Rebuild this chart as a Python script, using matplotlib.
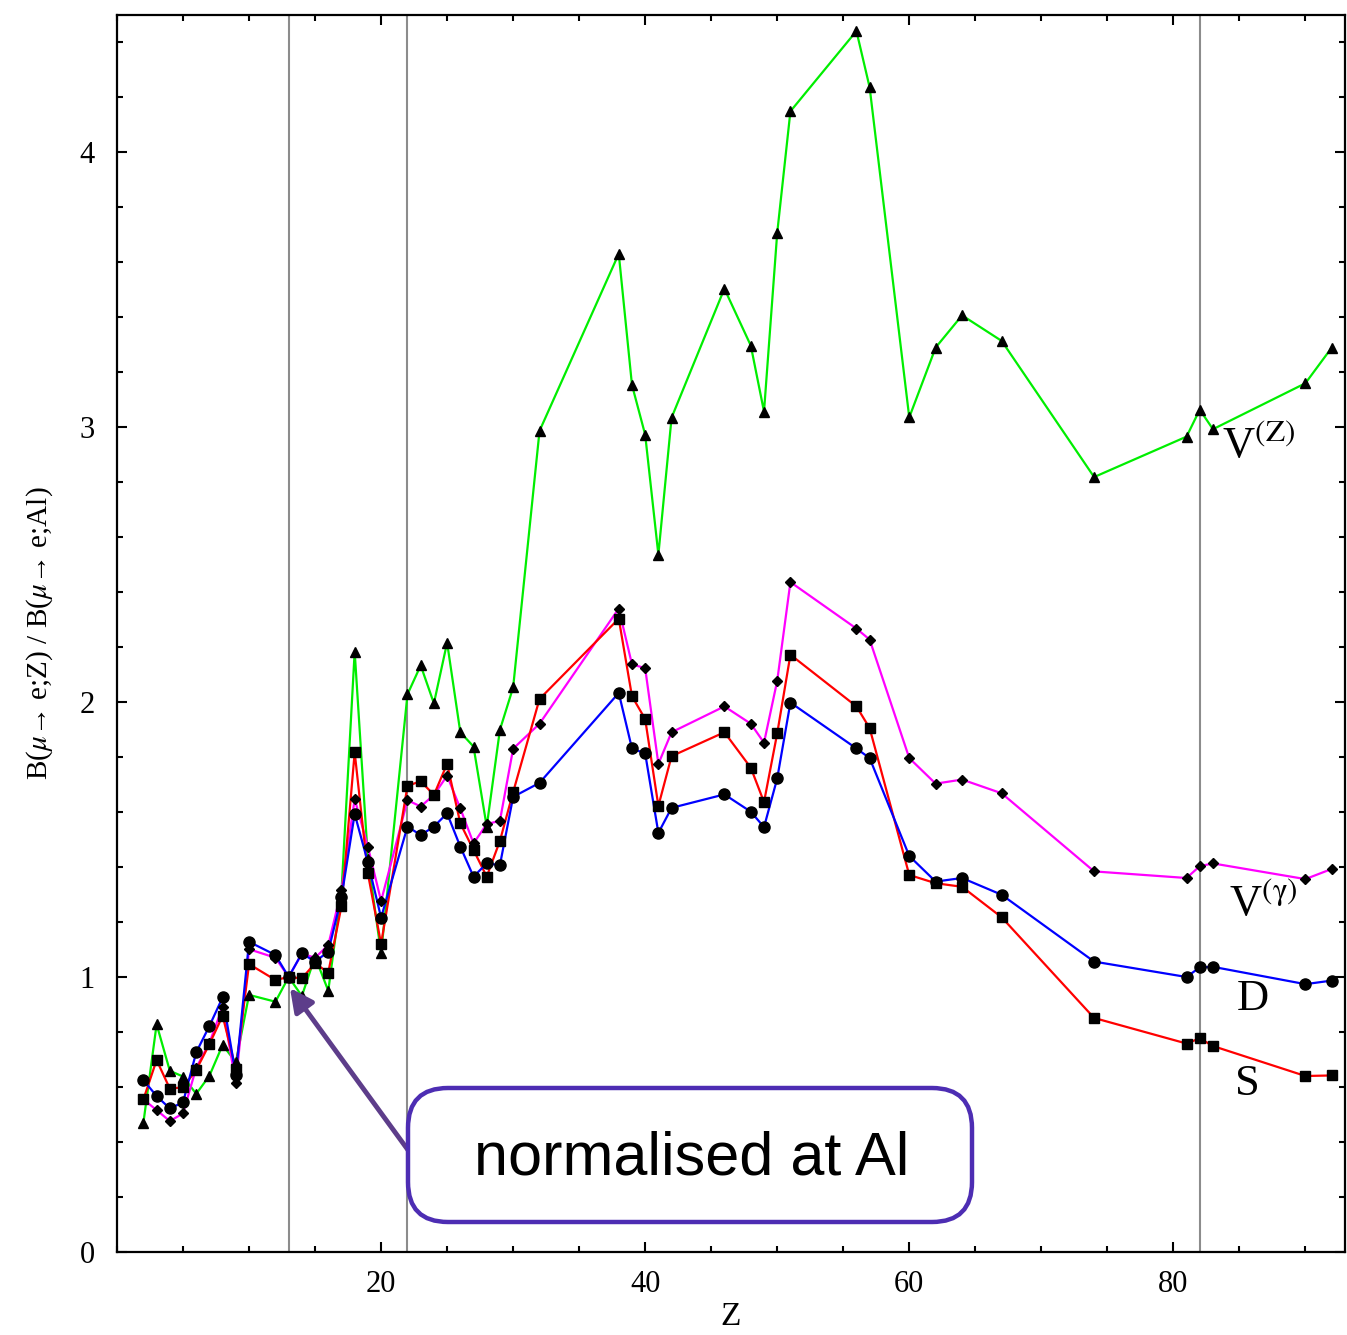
import matplotlib
matplotlib.use("Agg")
import matplotlib.pyplot as plt
from matplotlib.patches import FancyBboxPatch
from matplotlib.ticker import MultipleLocator

plt.rcParams["font.family"] = ["Liberation Serif", "DejaVu Serif"]
plt.rcParams["mathtext.fontset"] = "stix"

# ── data: ratio B(mu->e;Z)/B(mu->e;Al) per nucleus ──
Z = [2, 3, 4, 5, 6, 7, 8, 9, 10, 12, 13, 14, 15, 16, 17, 18, 19, 20, 22, 23,
     24, 25, 26, 27, 28, 29, 30, 32, 38, 39, 40, 41, 42, 46, 48, 49, 50, 51, 56, 57,
     60, 62, 64, 67, 74, 81, 82, 83, 90, 92]

ratio_D = [0.625, 0.567, 0.522, 0.544, 0.726, 0.822, 0.926, 0.644, 1.128, 1.080,
           1.0, 1.086, 1.056, 1.092, 1.290, 1.593, 1.417, 1.216, 1.547, 1.516,
           1.547, 1.595, 1.474, 1.365, 1.413, 1.407, 1.655, 1.706, 2.033, 1.831,
           1.813, 1.524, 1.615, 1.664, 1.601, 1.545, 1.722, 1.998, 1.831, 1.796,
           1.440, 1.347, 1.360, 1.299, 1.056, 1.000, 1.035, 1.037, 0.974, 0.987]

ratio_S = [0.555, 0.698, 0.594, 0.599, 0.662, 0.756, 0.859, 0.665, 1.047, 0.989,
           1.0, 0.995, 1.050, 1.016, 1.258, 1.817, 1.377, 1.120, 1.695, 1.712,
           1.662, 1.775, 1.559, 1.462, 1.365, 1.495, 1.672, 2.011, 2.303, 2.021,
           1.938, 1.622, 1.803, 1.890, 1.761, 1.636, 1.886, 2.172, 1.984, 1.905,
           1.371, 1.341, 1.328, 1.217, 0.851, 0.758, 0.777, 0.749, 0.640, 0.642]

ratio_Vg = [0.555, 0.516, 0.476, 0.504, 0.670, 0.760, 0.892, 0.613, 1.101, 1.070,
            1.0, 1.085, 1.070, 1.116, 1.316, 1.647, 1.474, 1.276, 1.643, 1.620,
            1.662, 1.732, 1.613, 1.486, 1.556, 1.568, 1.830, 1.921, 2.340, 2.137,
            2.123, 1.775, 1.890, 1.984, 1.921, 1.852, 2.077, 2.436, 2.267, 2.227,
            1.796, 1.703, 1.718, 1.668, 1.384, 1.360, 1.403, 1.413, 1.356, 1.393]

ratio_VZ = [0.470, 0.828, 0.659, 0.638, 0.575, 0.641, 0.753, 0.690, 0.935, 0.910,
            1.0, 0.931, 1.074, 0.950, 1.310, 2.183, 1.430, 1.086, 2.028, 2.133,
            1.995, 2.216, 1.890, 1.838, 1.547, 1.899, 2.053, 2.986, 3.630, 3.153,
            2.972, 2.536, 3.034, 3.503, 3.296, 3.056, 3.706, 4.148, 4.440, 4.235,
            3.035, 3.289, 3.406, 3.313, 2.818, 2.965, 3.063, 2.992, 3.159, 3.289]

Z_marked = [13, 22, 82]   # Al, Ti, Pb

fig = plt.figure(figsize=(13.47, 13.35), dpi=100)
ax = fig.add_axes([117 / 1347, 1 - 1252 / 1335, 1228 / 1347, 1237.5 / 1335])

for z in Z_marked:
    ax.axvline(z, color="#8c8c8c", lw=1.5, zorder=1)

series = [
    (ratio_VZ, "#00ee00", "^", 7.5),
    (ratio_Vg, "#ff00ff", "D", 5.5),
    (ratio_S, "#ff0000", "s", 6.8),
    (ratio_D, "#0000ff", "o", 8.0),
]
for vals, col, _, _ in series:
    ax.plot(Z, vals, color=col, lw=1.6, zorder=2)
for vals, _, mk, ms in series:
    ax.plot(Z, vals, ls="none", marker=mk, ms=ms, color="black", zorder=3)

# curve labels
lab_kw = dict(fontsize=32, ha="left", va="baseline")
ax.text(83.7, 2.89, r"V$^{\rm (Z)}$", **lab_kw)
ax.text(84.2, 1.225, r"V$^{(\mathrm{\gamma})}$", **lab_kw)
ax.text(84.8, 0.88, "D", **lab_kw)
ax.text(84.7, 0.57, "S", **lab_kw)

# axes
ax.set_xlim(0, 93)
ax.set_ylim(0, 4.5)
ax.set_xticks([20, 40, 60, 80])
ax.xaxis.set_minor_locator(MultipleLocator(5))
ax.set_yticks([0, 1, 2, 3, 4])
ax.yaxis.set_minor_locator(MultipleLocator(0.2))
ax.tick_params(which="both", direction="in", top=True, right=True,
               width=1.5, labelsize=22)
ax.tick_params(which="major", length=7)
ax.tick_params(which="minor", length=4)
ax.tick_params(axis="x", pad=13)
ax.tick_params(axis="y", pad=16)
for sp in ax.spines.values():
    sp.set_linewidth(1.6)

ax.set_xlabel("Z", fontsize=24, labelpad=2)
ax.set_ylabel(r"B($\mu$→ e;Z) / B($\mu$→ e;Al)", fontsize=21, labelpad=18)

# annotation box + arrow
box = FancyBboxPatch((4.08, 1.13), 5.64, 1.34,
                     boxstyle="round,pad=0,rounding_size=0.4",
                     transform=fig.dpi_scale_trans, facecolor="white",
                     edgecolor="#4d2db3", lw=3.2, zorder=5)
fig.patches.append(box)
fig.text(6.92, 1.76, "normalised at Al", transform=fig.dpi_scale_trans,
         family=["Liberation Sans", "DejaVu Sans"], fontsize=44,
         ha="center", va="center", zorder=6)
ax.annotate("", xy=(13.1, 0.96), xytext=(22.05, 0.37),
            arrowprops=dict(arrowstyle="-|>", color="#5d3d8a", lw=3.5,
                            mutation_scale=35, shrinkA=0, shrinkB=0),
            zorder=4)

fig.savefig("out.png", dpi=100)
